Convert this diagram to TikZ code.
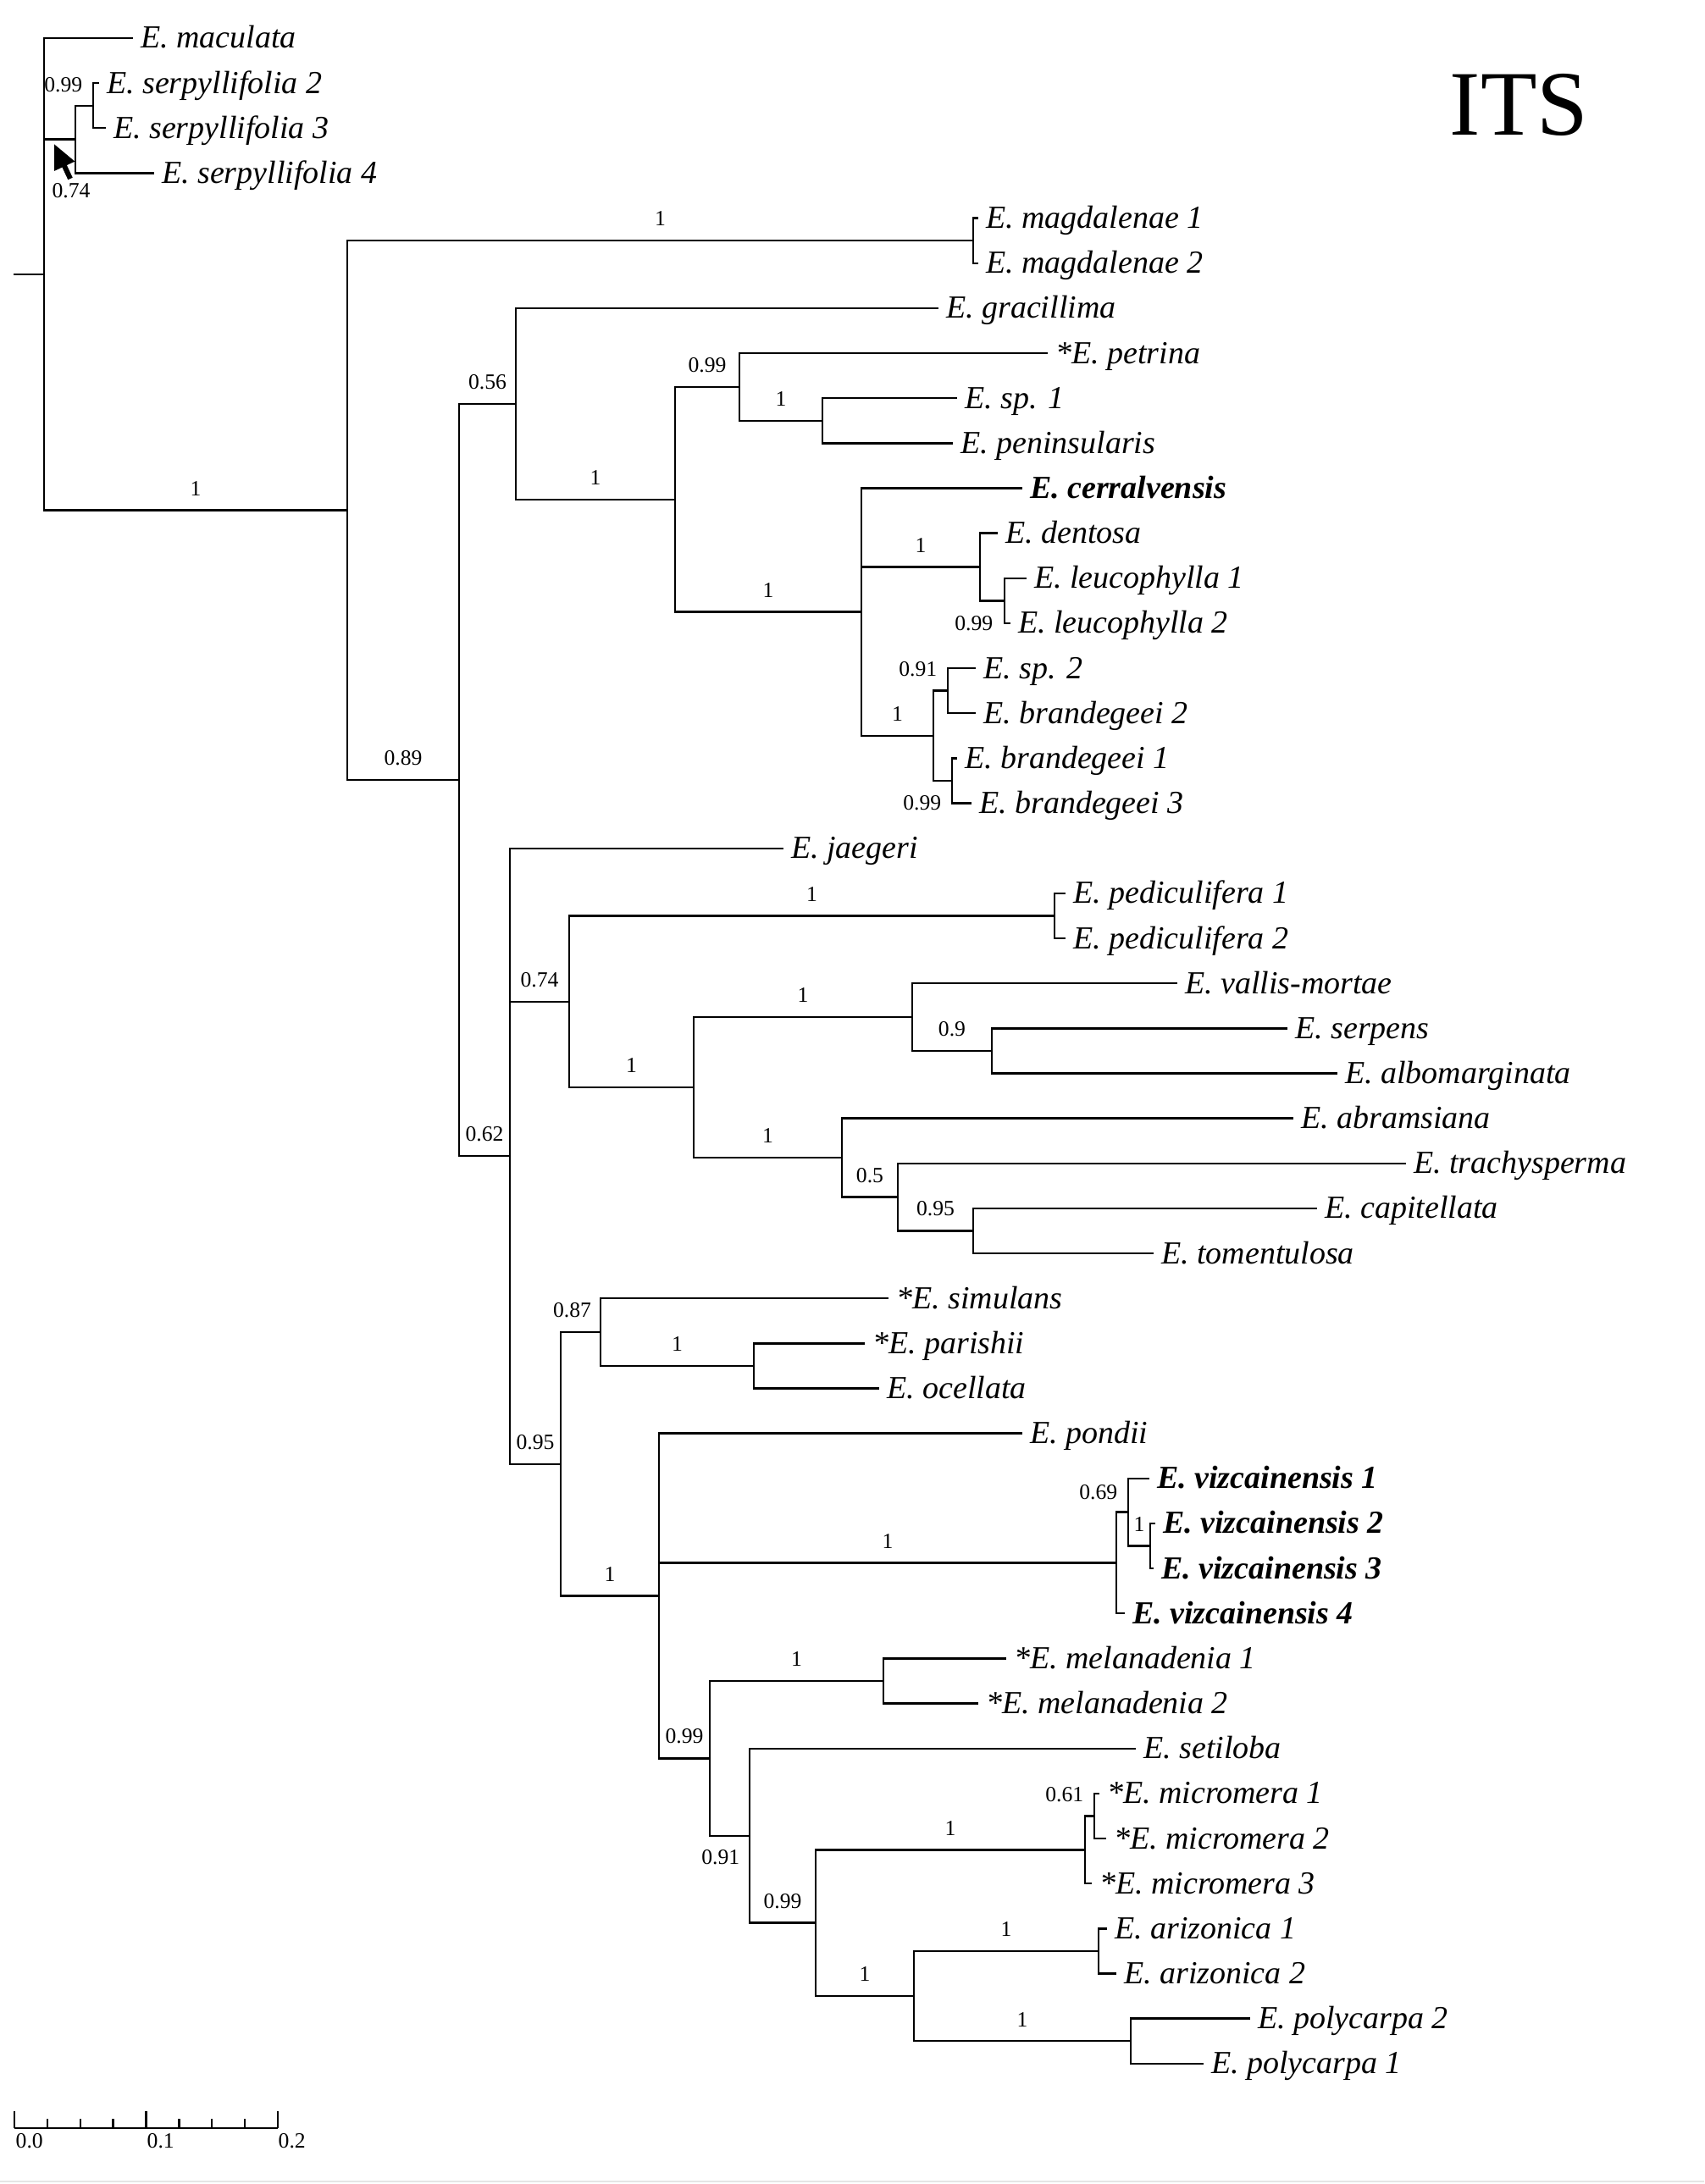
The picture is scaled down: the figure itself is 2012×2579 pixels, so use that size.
\documentclass[tikz,border=0pt]{standalone}
\usepackage{fontspec}
\setmainfont{Liberation Serif}
\usetikzlibrary{arrows.meta}
\begin{document}
\begin{tikzpicture}[x=0.1mm,y=-0.1mm,
  br/.style={line width=0.24mm},
  leaf/.style={anchor=base west, inner sep=0pt, xshift=0.85mm, yshift=-1.2mm, font=\fontsize{10.8pt}{13pt}\selectfont\itshape},
  sup/.style={pos=0.75, anchor=south, inner sep=0pt, yshift=1.6mm, font=\fontsize{7.3pt}{8pt}\selectfont},
  supl/.style={anchor=east, inner sep=0pt, font=\fontsize{7.3pt}{8pt}\selectfont},
  supc/.style={anchor=center, inner sep=0pt, font=\fontsize{7.3pt}{8pt}\selectfont},
]
\useasboundingbox (0,0) rectangle (2012,2579);
\newcommand\lf[4]{\coordinate (#1) at (#2,{45+53.15*#3}); \node[leaf] (#1l) at (#1) {#4};}
% leaves
\lf{t0}{157}{0}{E. maculata}
\lf{t1}{117}{1}{E. serpyllifolia 2}
\lf{t2}{125}{2}{E. serpyllifolia 3}
\lf{t3}{182}{3}{E. serpyllifolia 4}
\lf{t4}{1155}{4}{E. magdalenae 1}
\lf{t5}{1155}{5}{E. magdalenae 2}
\lf{t6}{1108}{6}{E. gracillima}
\lf{t7}{1237}{7}{*E. petrina}
\lf{t8}{1130}{8}{E. sp. 1}
\lf{t9}{1125}{9}{E. peninsularis}
\lf{t10}{1207}{10}{\bfseries E. cerralvensis}
\lf{t11}{1178}{11}{E. dentosa}
\lf{t12}{1212}{12}{E. leucophylla 1}
\lf{t13}{1193}{13}{E. leucophylla 2}
\lf{t14}{1152}{14}{E. sp. 2}
\lf{t15}{1152}{15}{E. brandegeei 2}
\lf{t16}{1130}{16}{E. brandegeei 1}
\lf{t17}{1147}{17}{E. brandegeei 3}
\lf{t18}{925}{18}{E. jaegeri}
\lf{t19}{1258}{19}{E. pediculifera 1}
\lf{t20}{1258}{20}{E. pediculifera 2}
\lf{t21}{1390}{21}{E. vallis-mortae}
\lf{t22}{1520}{22}{E. serpens}
\lf{t23}{1579}{23}{E. albomarginata}
\lf{t24}{1527}{24}{E. abramsiana}
\lf{t25}{1660}{25}{E. trachysperma}
\lf{t26}{1555}{26}{E. capitellata}
\lf{t27}{1362}{27}{E. tomentulosa}
\lf{t28}{1049}{28}{*E. simulans}
\lf{t29}{1021}{29}{*E. parishii}
\lf{t30}{1038}{30}{E. ocellata}
\lf{t31}{1207}{31}{E. pondii}
\lf{t32}{1357}{32}{\bfseries E. vizcainensis 1}
\lf{t33}{1364}{33}{\bfseries E. vizcainensis 2}
\lf{t34}{1362}{34}{\bfseries E. vizcainensis 3}
\lf{t35}{1328}{35}{\bfseries E. vizcainensis 4}
\lf{t36}{1188}{36}{*E. melanadenia 1}
\lf{t37}{1155}{37}{*E. melanadenia 2}
\lf{t38}{1341}{38}{E. setiloba}
\lf{t39}{1298}{39}{*E. micromera 1}
\lf{t40}{1306}{40}{*E. micromera 2}
\lf{t41}{1289}{41}{*E. micromera 3}
\lf{t42}{1307}{42}{E. arizonica 1}
\lf{t43}{1318}{43}{E. arizonica 2}
\lf{t44}{1476}{44}{E. polycarpa 2}
\lf{t45}{1421}{45}{E. polycarpa 1}
% internal nodes
\coordinate (R0) at (16,323.8);
\coordinate (Root) at (52,323.8);
\coordinate (S) at (89,164.59);
\coordinate (S23) at (110,124.725);
\coordinate (A) at (410,602.61);
\coordinate (Mag) at (1149,284.175);
\coordinate (B) at (542,921.04);
\coordinate (C) at (609,476.84);
\coordinate (D) at (797,589.79);
\coordinate (E) at (873,456.91);
\coordinate (F) at (971,496.775);
\coordinate (G) at (1017,722.66);
\coordinate (H) at (1157,669.51);
\coordinate (L) at (1186,709.375);
\coordinate (I) at (1102,868.825);
\coordinate (J) at (1119,815.675);
\coordinate (K) at (1124,921.975);
\coordinate (M) at (602,1365.24);
\coordinate (N) at (672,1182.74);
\coordinate (Ped) at (1245,1081.425);
\coordinate (O) at (819,1284.06);
\coordinate (P) at (1077,1201.01);
\coordinate (R) at (1171,1240.875);
\coordinate (Q) at (994,1367.11);
\coordinate (T) at (1060,1413.61);
\coordinate (U) at (1149,1453.475);
\coordinate (V) at (662,1728.78);
\coordinate (W) at (709,1573.06);
\coordinate (Y) at (890,1612.925);
\coordinate (X) at (778,1884.49);
\coordinate (Vz) at (1318,1845.46);
\coordinate (VV) at (1332,1785.66);
\coordinate (VV23) at (1358,1825.525);
\coordinate (AA) at (838,2076.33);
\coordinate (Mel) at (1043,1984.975);
\coordinate (BB) at (885,2167.68);
\coordinate (CC) at (963,2270.66);
\coordinate (Mic) at (1281,2184.29);
\coordinate (MM) at (1292,2144.425);
\coordinate (DD) at (1079,2357.025);
\coordinate (Ar) at (1297,2303.875);
\coordinate (Po) at (1335,2410.175);
% branches
\draw[br] (R0) -- (Root);
\draw[br] (Root) |- (t0);
\draw[br] (Root) |- (S);
\draw[br] (Root) |- node[sup]{1} (A);
\draw[br] (S) |- (S23);
\draw[br] (S) |- (t3);
\draw[br] (S23) |- (t1);
\draw[br] (S23) |- (t2);
\draw[br] (A) |- node[sup]{1} (Mag);
\draw[br] (A) |- node[sup]{0.89} (B);
\draw[br] (Mag) |- (t4);
\draw[br] (Mag) |- (t5);
\draw[br] (B) |- node[sup]{0.56} (C);
\draw[br] (B) |- node[sup]{0.62} (M);
\draw[br] (C) |- (t6);
\draw[br] (C) |- node[sup]{1} (D);
\draw[br] (D) |- node[sup]{0.99} (E);
\draw[br] (D) |- node[sup]{1} (G);
\draw[br] (E) |- (t7);
\draw[br] (E) |- node[sup]{1} (F);
\draw[br] (F) |- (t8);
\draw[br] (F) |- (t9);
\draw[br] (G) |- (t10);
\draw[br] (G) |- node[sup]{1} (H);
\draw[br] (G) |- node[sup]{1} (I);
\draw[br] (H) |- (t11);
\draw[br] (H) |- (L);
\draw[br] (L) |- (t12);
\draw[br] (L) |- (t13);
\draw[br] (I) |- (J);
\draw[br] (I) |- (K);
\draw[br] (J) |- (t14);
\draw[br] (J) |- (t15);
\draw[br] (K) |- (t16);
\draw[br] (K) |- (t17);
\draw[br] (M) |- (t18);
\draw[br] (M) |- node[sup]{0.74} (N);
\draw[br] (M) |- node[sup]{0.95} (V);
\draw[br] (N) |- node[sup]{1} (Ped);
\draw[br] (N) |- node[sup]{1} (O);
\draw[br] (Ped) |- (t19);
\draw[br] (Ped) |- (t20);
\draw[br] (O) |- node[sup]{1} (P);
\draw[br] (O) |- node[sup]{1} (Q);
\draw[br] (P) |- (t21);
\draw[br] (P) |- node[sup]{0.9} (R);
\draw[br] (R) |- (t22);
\draw[br] (R) |- (t23);
\draw[br] (Q) |- (t24);
\draw[br] (Q) |- node[sup]{0.5} (T);
\draw[br] (T) |- (t25);
\draw[br] (T) |- node[sup]{0.95} (U);
\draw[br] (U) |- (t26);
\draw[br] (U) |- (t27);
\draw[br] (V) |- node[sup,xshift=-1mm]{0.87} (W);
\draw[br] (V) |- node[sup]{1} (X);
\draw[br] (W) |- (t28);
\draw[br] (W) |- node[sup]{1} (Y);
\draw[br] (Y) |- (t29);
\draw[br] (Y) |- (t30);
\draw[br] (X) |- (t31);
\draw[br] (X) |- node[sup]{1} (Vz);
\draw[br] (X) |- node[sup]{0.99} (AA);
\draw[br] (Vz) |- (VV);
\draw[br] (Vz) |- (t35);
\draw[br] (VV) |- (t32);
\draw[br] (VV) |- node[sup]{1} (VV23);
\draw[br] (VV23) |- (t33);
\draw[br] (VV23) |- (t34);
\draw[br] (AA) |- node[sup]{1} (Mel);
\draw[br] (AA) |- (BB);
\draw[br] (Mel) |- (t36);
\draw[br] (Mel) |- (t37);
\draw[br] (BB) |- (t38);
\draw[br] (BB) |- node[sup]{0.99} (CC);
\draw[br] (CC) |- node[sup]{1} (Mic);
\draw[br] (CC) |- node[sup]{1} (DD);
\draw[br] (Mic) |- (MM);
\draw[br] (Mic) |- (t41);
\draw[br] (MM) |- (t39);
\draw[br] (MM) |- (t40);
\draw[br] (DD) |- node[sup]{1} (Ar);
\draw[br] (DD) |- node[sup]{1} (Po);
\draw[br] (Ar) |- (t42);
\draw[br] (Ar) |- (t43);
\draw[br] (Po) |- (t44);
\draw[br] (Po) |- (t45);
% special support labels
\node[supl] (lS23) at (98,100) {0.99};
\node[supc] (lS) at (84,225) {0.74};
\coordinate (arT) at (83,211);
\coordinate (arH) at (64,170);
\draw[line width=0.6mm, -{Triangle[length=2.9mm,width=2.5mm]}] (arT) -- (arH);
\node[supl] (lL) at (1173,736) {0.99};
\node[supl] (lJ) at (1107,790) {0.91};
\node[supl] (lK) at (1112,948) {0.99};
\node[supl] (lBB) at (874,2193) {0.91};
\node[supl] (lMM) at (1280,2119) {0.61};
\node[supl] (lVV) at (1320,1762) {0.69};
% title
\node[anchor=base west, inner sep=0pt, font=\fontsize{31pt}{33pt}\selectfont] (its) at (1711,160) {ITS};
% scale bar
\coordinate (sb0) at (17,2513);
\coordinate (sb2) at (328,2513);
\draw[br] (sb0) -- (sb2);
\foreach \k/\h in {0/20,1/11,2/11,3/11,4/20,5/11,6/11,7/11,8/20}
  \draw[br] ({17+38.875*\k},2513) -- ++(0,-\h);
\node[supc, anchor=west] (s0) at (18,2528) {0.0};
\node[supc, anchor=west] (s1) at (173,2528) {0.1};
\node[supc, anchor=west] (s2) at (328,2528) {0.2};
\draw[gray!20, line width=0.12mm] (0,2576) -- (2012,2576);
\end{tikzpicture}
\end{document}
